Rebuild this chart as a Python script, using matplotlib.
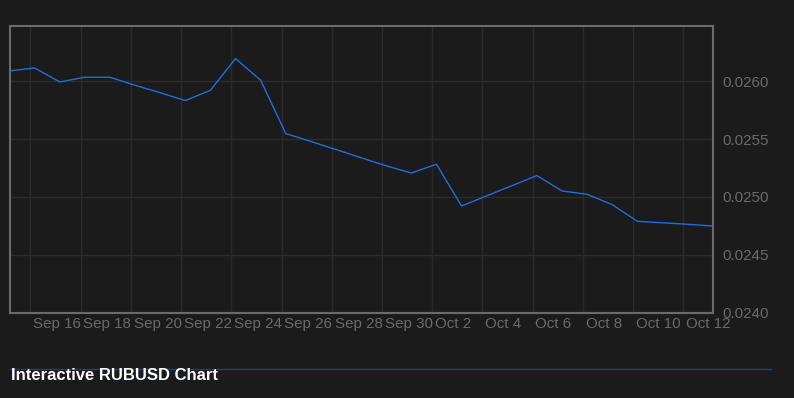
# RUBUSD daily close, dark theme line chart
import matplotlib
matplotlib.use("Agg")
import matplotlib.pyplot as plt
import matplotlib.dates as mdates
import matplotlib.transforms as mtransforms
import pandas as pd

# data
start = "2013-09-15 04:00"
rate = [0.026089, 0.026115, 0.025994, 0.026035, 0.026035, 0.025965, 0.025901,
        0.025833, 0.025922, 0.026196, 0.026009, 0.025548, 0.025480, 0.025410,
        0.025339, 0.025269, 0.025207, 0.025283, 0.024922, 0.025010, 0.025097,
        0.025185, 0.025052, 0.025023, 0.024934, 0.024790, 0.024777, 0.024764,
        0.024749]
dates = pd.date_range(start, periods=len(rate), freq="D")
tick_dates = pd.date_range("2013-09-16", "2013-10-12", freq="2D")
y_ticks = [0.0240, 0.0245, 0.0250, 0.0255, 0.0260]
title = "Interactive RUBUSD Chart"

bg = "#1b1b1b"
plt.rcParams['font.family'] = ['Liberation Sans', 'DejaVu Sans']

fig = plt.figure(figsize=(7.94, 3.98), dpi=100, facecolor=bg)
ax = fig.add_axes([9.5/794, 1-312.7/398, (712.7-9.5)/794, (312.7-25.7)/398])
ax.set_facecolor(bg)

ax.plot(dates, rate, color="#1e6fdc", lw=1.0, zorder=3)

ax.set_xlim(dates[0], dates[-1])
ax.set_ylim(0.0240, 0.02648)

ax.set_xticks(tick_dates)
ax.set_xticklabels([f"{d:%b} {d.day}" for d in tick_dates])
ax.set_yticks(y_ticks)
ax.yaxis.set_major_formatter(plt.FormatStrFormatter("%.4f"))
ax.yaxis.tick_right()

ax.grid(True, color="#2b2b2b", lw=1.0)
ax.tick_params(axis="both", length=0, colors="#6a6a6a", labelsize=10.9)
ax.tick_params(axis="x", pad=3)
ax.tick_params(axis="y", pad=7)

shift = mtransforms.ScaledTranslation(2/72, 0, fig.dpi_scale_trans)
for lab in ax.get_xticklabels():
    lab.set_horizontalalignment("left")
    lab.set_transform(lab.get_transform() + shift)

for s in ax.spines.values():
    s.set_color("#6b6b6b")
    s.set_linewidth(1.5)

# bottom rule and title
fig.add_artist(plt.Line2D([9.5/794, 771/794], [1-368.7/398]*2,
                          color="#2c3e5c", lw=1.0, transform=fig.transFigure))
fig.text(11/794, 1-376/398, title, color="white", fontsize=12,
         fontweight="bold", va="center", ha="left")

fig.savefig("out.png", dpi=100, facecolor=bg)
